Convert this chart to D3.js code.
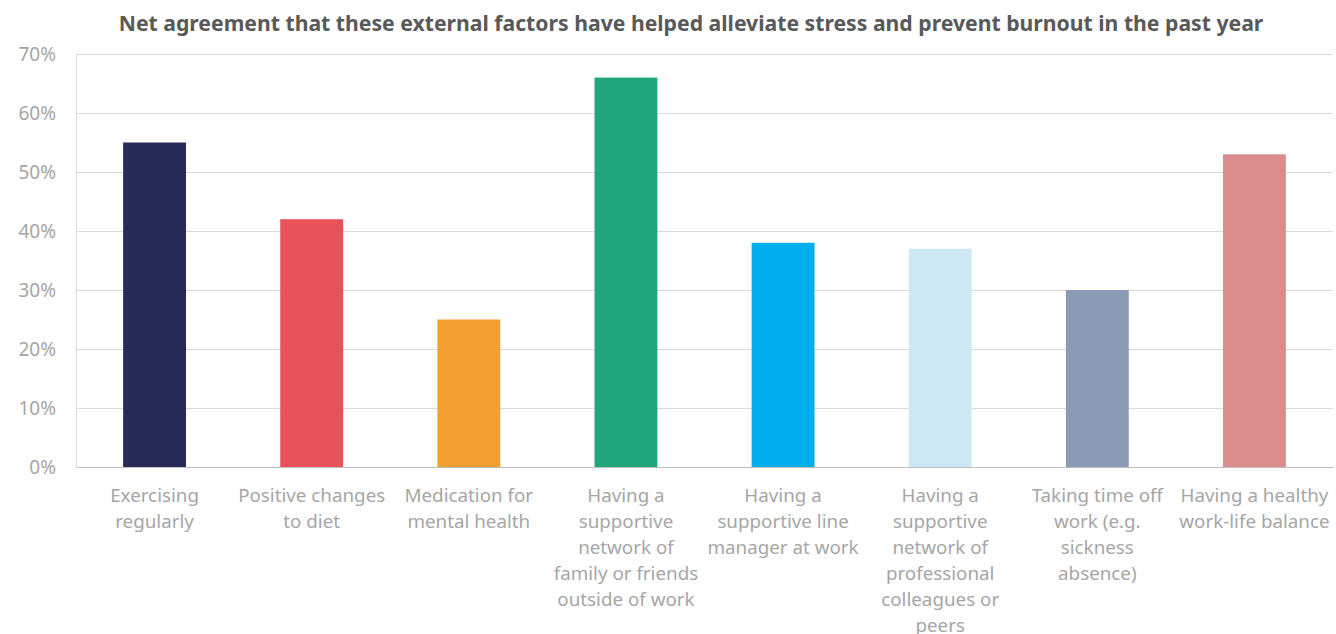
<!DOCTYPE html>
<html>
<head>
<meta charset="utf-8">
<script src="https://cdn.jsdelivr.net/npm/d3@7"></script>
<style>
  html, body { margin: 0; padding: 0; background: #fff; }
  svg { display: block; font-family: "Noto Sans", "Open Sans", sans-serif; }
</style>
</head>
<body>
<svg id="chart" width="1336" height="634"></svg>
<script>
// Survey results: net agreement per external factor
const categories = [
  "Exercising\nregularly",
  "Positive changes\nto diet",
  "Medication for\nmental health",
  "Having a\nsupportive\nnetwork of\nfamily or friends\noutside of work",
  "Having a\nsupportive line\nmanager at work",
  "Having a\nsupportive\nnetwork of\nprofessional\ncolleagues or\npeers",
  "Taking time off\nwork (e.g.\nsickness\nabsence)",
  "Having a healthy\nwork-life balance"
];
const values = [55, 42, 25, 66, 38, 37, 30, 53];
const colors = ["#262A54", "#E8525A", "#F39F2F", "#20A67A", "#00ADEE", "#CDE8F5", "#8A9BB5", "#DB8C8C"];
const yTicks = [0, 10, 20, 30, 40, 50, 60, 70];
const title = "Net agreement that these external factors have helped alleviate stress and prevent burnout in the past year";

const svg = d3.select("#chart");
const margin = { left: 76, right: 3, top: 54, bottom: 167 };
const W = 1336, H = 634;

const x = d3.scaleBand()
  .domain(d3.range(categories.length))
  .range([margin.left, W - margin.right])
  .paddingInner(0.6)
  .paddingOuter(0.3);

const y = d3.scaleLinear()
  .domain([0, 70])
  .range([H - margin.bottom, margin.top]);

// Title
svg.append("text")
  .attr("x", 691)
  .attr("y", 31)
  .attr("text-anchor", "middle")
  .attr("font-size", 21.2)
  .attr("font-weight", "bold")
  .attr("fill", "#595959")
  .text(title);

// Gridlines
svg.append("g")
  .selectAll("line")
  .data(yTicks.filter(d => d > 0))
  .join("line")
  .attr("x1", margin.left)
  .attr("x2", W - margin.right)
  .attr("y1", d => Math.round(y(d)) + 0.5)
  .attr("y2", d => Math.round(y(d)) + 0.5)
  .attr("stroke", "#d9d9d9")
  .attr("stroke-width", 1);

// Y axis
const yAxis = svg.append("g")
  .attr("transform", `translate(${margin.left},0)`)
  .call(d3.axisLeft(y).tickValues(yTicks).tickSize(0).tickPadding(20).tickFormat(d => d + "%"));
yAxis.select(".domain").attr("stroke", "#d9d9d9");
yAxis.selectAll("text")
  .attr("font-size", 19)
  .attr("fill", "#a6a6a6")
  .attr("font-family", "Noto Sans, Open Sans, sans-serif");

// Bars
svg.append("g")
  .selectAll("rect")
  .data(values)
  .join("rect")
  .attr("x", (d, i) => x(i))
  .attr("width", x.bandwidth())
  .attr("y", d => y(d))
  .attr("height", d => y(0) - y(d))
  .attr("fill", (d, i) => colors[i]);

// X axis baseline
const xAxis = svg.append("g")
  .attr("transform", `translate(0,${y(0)})`)
  .call(d3.axisBottom(x).tickSize(0).tickFormat(""));
xAxis.select(".domain").attr("stroke", "#bfbfbf");

// Category labels (multi-line)
const labels = svg.append("g")
  .selectAll("text")
  .data(categories)
  .join("text")
  .attr("x", (d, i) => x(i) + x.bandwidth() / 2)
  .attr("y", y(0) + 35)
  .attr("text-anchor", "middle")
  .attr("font-size", 18.8)
  .attr("fill", "#a6a6a6");
labels.each(function (d) {
  const t = d3.select(this);
  d.split("\n").forEach((line, k) => {
    t.append("tspan")
      .attr("x", t.attr("x"))
      .attr("dy", k === 0 ? 0 : 26)
      .text(line);
  });
});
</script>
</body>
</html>
